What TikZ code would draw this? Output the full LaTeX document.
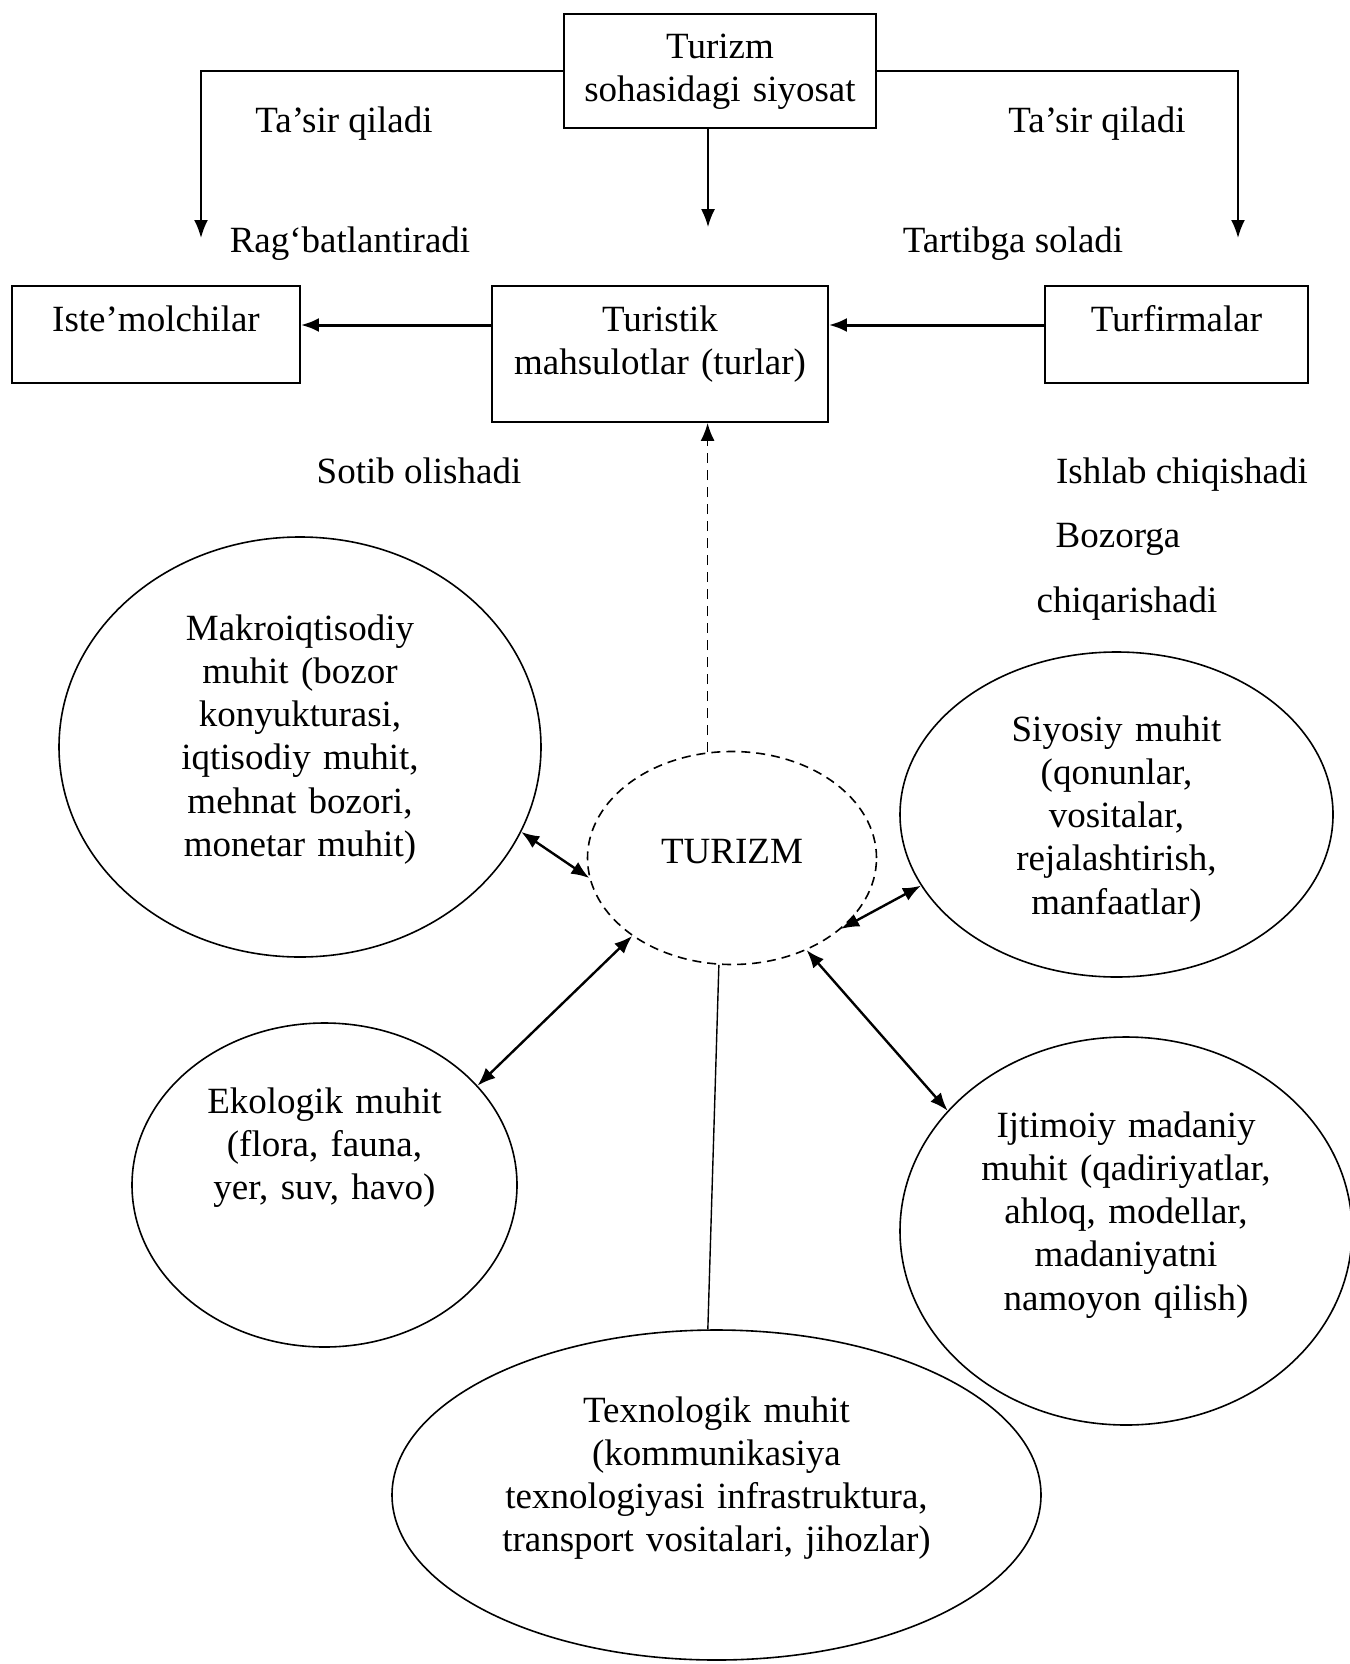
\documentclass[tikz,border=0pt]{standalone}
\usepackage{fontspec}
\setmainfont{Liberation Serif}
\usetikzlibrary{shapes.geometric,arrows.meta}

\begin{document}
\begin{tikzpicture}[x=1pt,y=-1pt,>={Latex[length=18pt,width=14pt]},
  font=\fontsize{37pt}{43.3pt}\selectfont,
  box/.style={draw,line width=1.8pt,inner sep=0pt,align=center,text height=25pt},
  env/.style={ellipse,draw,line width=1.6pt,inner sep=0pt,align=center,text height=25pt},
  lab/.style={anchor=base,inner sep=0pt},
  link/.style={<->,line width=2.4pt}]

\useasboundingbox (0,0) rectangle (1349,1664);

% Boxes
\node[box,minimum width=312pt,minimum height=114pt,text width=300pt,text depth=50pt] (pol) at (720,71) {Turizm\\sohasidagi siyosat};
\node[box,minimum width=288pt,minimum height=97pt,text depth=32pt] (iste) at (156,334.5) {Iste’molchilar};
\node[box,minimum width=336pt,minimum height=136pt,text width=310pt,text depth=71pt] (turistik) at (660,354) {Turistik\\mahsulotlar (turlar)};
\node[box,minimum width=263pt,minimum height=97pt,text depth=32pt] (turf) at (1176.5,334.5) {Turfirmalar};

% Environments
\node[env,dash pattern=on 9pt off 6pt,minimum width=289pt,minimum height=213pt,text depth=15pt] (turizm) at (732,858) {TURIZM};
\node[env,minimum width=482pt,minimum height=420pt,text width=290pt,text depth=239pt] (makro) at (300,747) {Makroiqtisodiy\\muhit (bozor\\konyukturasi,\\iqtisodiy muhit,\\mehnat bozori,\\monetar muhit)};
\node[env,minimum width=433pt,minimum height=325pt,text width=250pt,text depth=172pt] (siyosiy) at (1116.5,814.5) {Siyosiy muhit\\(qonunlar,\\vositalar,\\rejalashtirish,\\manfaatlar)};
\node[env,minimum width=385pt,minimum height=324pt,text width=240pt,text depth=169pt] (ekologik) at (324.5,1185) {Ekologik muhit\\(flora, fauna,\\yer, suv, havo)};
\node[env,minimum width=452pt,minimum height=388pt,text width=300pt,text depth=213pt] (ijtimoiy) at (1126,1231) {Ijtimoiy madaniy\\muhit (qadiriyatlar,\\ahloq, modellar,\\madaniyatni\\namoyon qilish)};
\node[env,minimum width=649pt,minimum height=330pt,text width=440pt,text depth=171pt] (texno) at (716.5,1495) {Texnologik muhit\\(kommunikasiya\\texnologiyasi infrastruktura,\\transport vositalari, jihozlar)};

% Labels
\node[lab] (tasirl) at (344,133) {Ta’sir qiladi};
\node[lab] (tasirr) at (1097,133) {Ta’sir qiladi};
\node[lab] (ragb) at (350,252) {Rag‘batlantiradi};
\node[lab] (tartib) at (1013,252) {Tartibga soladi};
\node[lab] (sotib) at (419,483) {Sotib olishadi};
\node[lab] (ishlab) at (1182,483) {Ishlab chiqishadi};
\node[lab] (bozorga) at (1118,547) {Bozorga};
\node[lab] (chiqar) at (1127,612) {chiqarishadi};

% Policy arrows
\coordinate (lefttip) at (201,238);
\coordinate (righttip) at (1238,238);
\coordinate (midtip) at (708,227);
\draw[->,line width=2pt] (pol.west) -| (lefttip);
\draw[->,line width=2pt] (pol.east) -| (righttip);
\draw[->,line width=1.6pt] (pol.south -| midtip) -- (midtip);

% Market arrows
\coordinate (row) at (0,325);
\draw[->,line width=3pt] (turistik.west |- row) -- (iste.east |- row);
\draw[->,line width=3pt] (turf.west |- row) -- (turistik.east |- row);

% Links to TURIZM
\draw[link] (makro.-21) -- (turizm.188);
\draw[link] (siyosiy.200) -- (turizm.-33);
\draw[link] (ekologik.33) -- (turizm.218);
\draw[link] (ijtimoiy.146) -- (turizm.-51);
\draw[line width=1.4pt] (turizm.-97) -- (texno.93);
\draw[->,line width=1.8pt,dash pattern=on 10pt off 7pt] (turizm.103) -- (turizm.103 |- turistik.south);

\end{tikzpicture}
\end{document}
